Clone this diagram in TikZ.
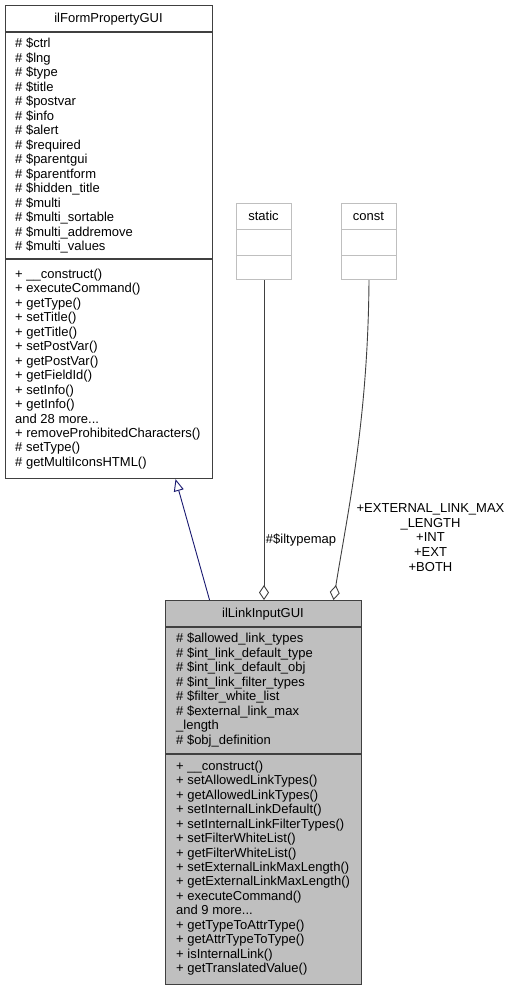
\documentclass[tikz,border=0pt]{standalone}
\usepackage{fontspec}
\setmainfont{Liberation Sans}
\usetikzlibrary{arrows.meta}
\definecolor{edgegray}{HTML}{404040}
\definecolor{boxfill}{HTML}{BFBFBF}
\definecolor{navyline}{HTML}{191970}
\newcommand\mydots{.\kern0pt.\kern0pt.}
\begin{document}
\begin{tikzpicture}[x=1pt,y=-1pt,
  txt/.style={font=\fontsize{13}{14.5}\selectfont, inner sep=0pt, anchor=base west, text=black},
  ttl/.style={txt, anchor=base},
  lbl/.style={txt, anchor=base},
  umlbox/.style={draw=edgegray, line width=1.1pt, inner sep=0pt, anchor=north west},
  sepline/.style={draw=edgegray, line width=1.1pt},
  lightbox/.style={draw=boxfill, line width=1pt, inner sep=0pt, anchor=north west},
  lightsep/.style={draw=boxfill, line width=1pt},
  usage/.style={draw=edgegray, line width=0.9pt, -{Diamond[open, length=15pt, width=10pt, line width=0.9pt]}},
  inherit/.style={draw=navyline, line width=0.9pt, -{Triangle[open, length=12pt, width=10pt, line width=0.9pt, fill=white]}}]
\useasboundingbox (0,0) rectangle (514,991);

% base class box
\node[umlbox, minimum width=207pt, minimum height=473pt] (base) at (5,5) {};
\draw[sepline] (5,32) -- (212,32);
\draw[sepline] (5,259) -- (212,259);
\node[ttl] (basettl) at (108.5,22.5) {ilFormPropertyGUI};
\foreach \t [count=\i from 0] in {\$ctrl, \$lng, \$type, \$title, \$postvar, \$info, \$alert, \$required, \$parentgui, \$parentform, \$hidden\_title, \$multi, \$multi\_sortable, \$multi\_addremove, \$multi\_values}
  \node[txt] (ba\i) at (15,{47.5+14.5*\i}) {\# \t};
\foreach \t [count=\i from 0] in {+ \_\_construct(), + executeCommand(), + getType(), + setTitle(), + getTitle(), + setPostVar(), + getPostVar(), + getFieldId(), + setInfo(), + getInfo(), and 28 more\mydots, + removeProhibitedCharacters(), \# setType(), \# getMultiIconsHTML()}
  \node[txt] (bm\i) at (15,{278.5+14.45*\i}) {\t};

% static box
\node[lightbox, minimum width=55pt, minimum height=76pt] (static) at (236,203) {};
\draw[lightsep] (236,229) -- (291,229);
\draw[lightsep] (236,255) -- (291,255);
\node[ttl] (staticttl) at (263.5,220.5) {static};

% const box
\node[lightbox, minimum width=55pt, minimum height=76pt] (const) at (341,203) {};
\draw[lightsep] (341,229) -- (396,229);
\draw[lightsep] (341,255) -- (396,255);
\node[ttl] (constttl) at (368.5,220.5) {const};

% derived class box
\node[umlbox, fill=boxfill, minimum width=196pt, minimum height=384pt] (derived) at (165,600) {};
\draw[sepline] (165,627) -- (361,627);
\draw[sepline] (165,754) -- (361,754);
\node[ttl] (derivedttl) at (263,617.5) {ilLinkInputGUI};
\foreach \t [count=\i from 0] in {\# \$allowed\_link\_types, \# \$int\_link\_default\_type, \# \$int\_link\_default\_obj, \# \$int\_link\_filter\_types, \# \$filter\_white\_list, \# \$external\_link\_max, \_length, \# \$obj\_definition}
  \node[txt] (da\i) at (176,{642.5+14.5*\i}) {\t};
\foreach \t [count=\i from 0] in {+ \_\_construct(), + setAllowedLinkTypes(), + getAllowedLinkTypes(), + setInternalLinkDefault(), + setInternalLinkFilterTypes(), + setFilterWhiteList(), + getFilterWhiteList(), + setExternalLinkMaxLength(), + getExternalLinkMaxLength(), + executeCommand(), and 9 more\mydots, + getTypeToAttrType(), + getAttrTypeToType(), + isInternalLink(), + getTranslatedValue()}
  \node[txt] (dm\i) at (176,{770.5+14.43*\i}) {\t};

% connectors
\draw[inherit] ([xshift=-54pt]derived.north) -- ([xshift=66.5pt]base.south);
\draw[usage] (static.south) -- (static.south |- derived.north);
\draw[usage] (const.south) .. controls (368,420) and (348,510) .. ([xshift=70pt]derived.north);

% labels
\node[lbl] (lbliltype) at (301,543.5) {\#\$iltypemap};
\foreach \t [count=\i from 0] in {+EXTERNAL\_LINK\_MAX, \_LENGTH, +INT, +EXT, +BOTH}
  \node[lbl] (lblconst\i) at (430.5,{512.5+14.7*\i}) {\t};
\end{tikzpicture}
\end{document}
